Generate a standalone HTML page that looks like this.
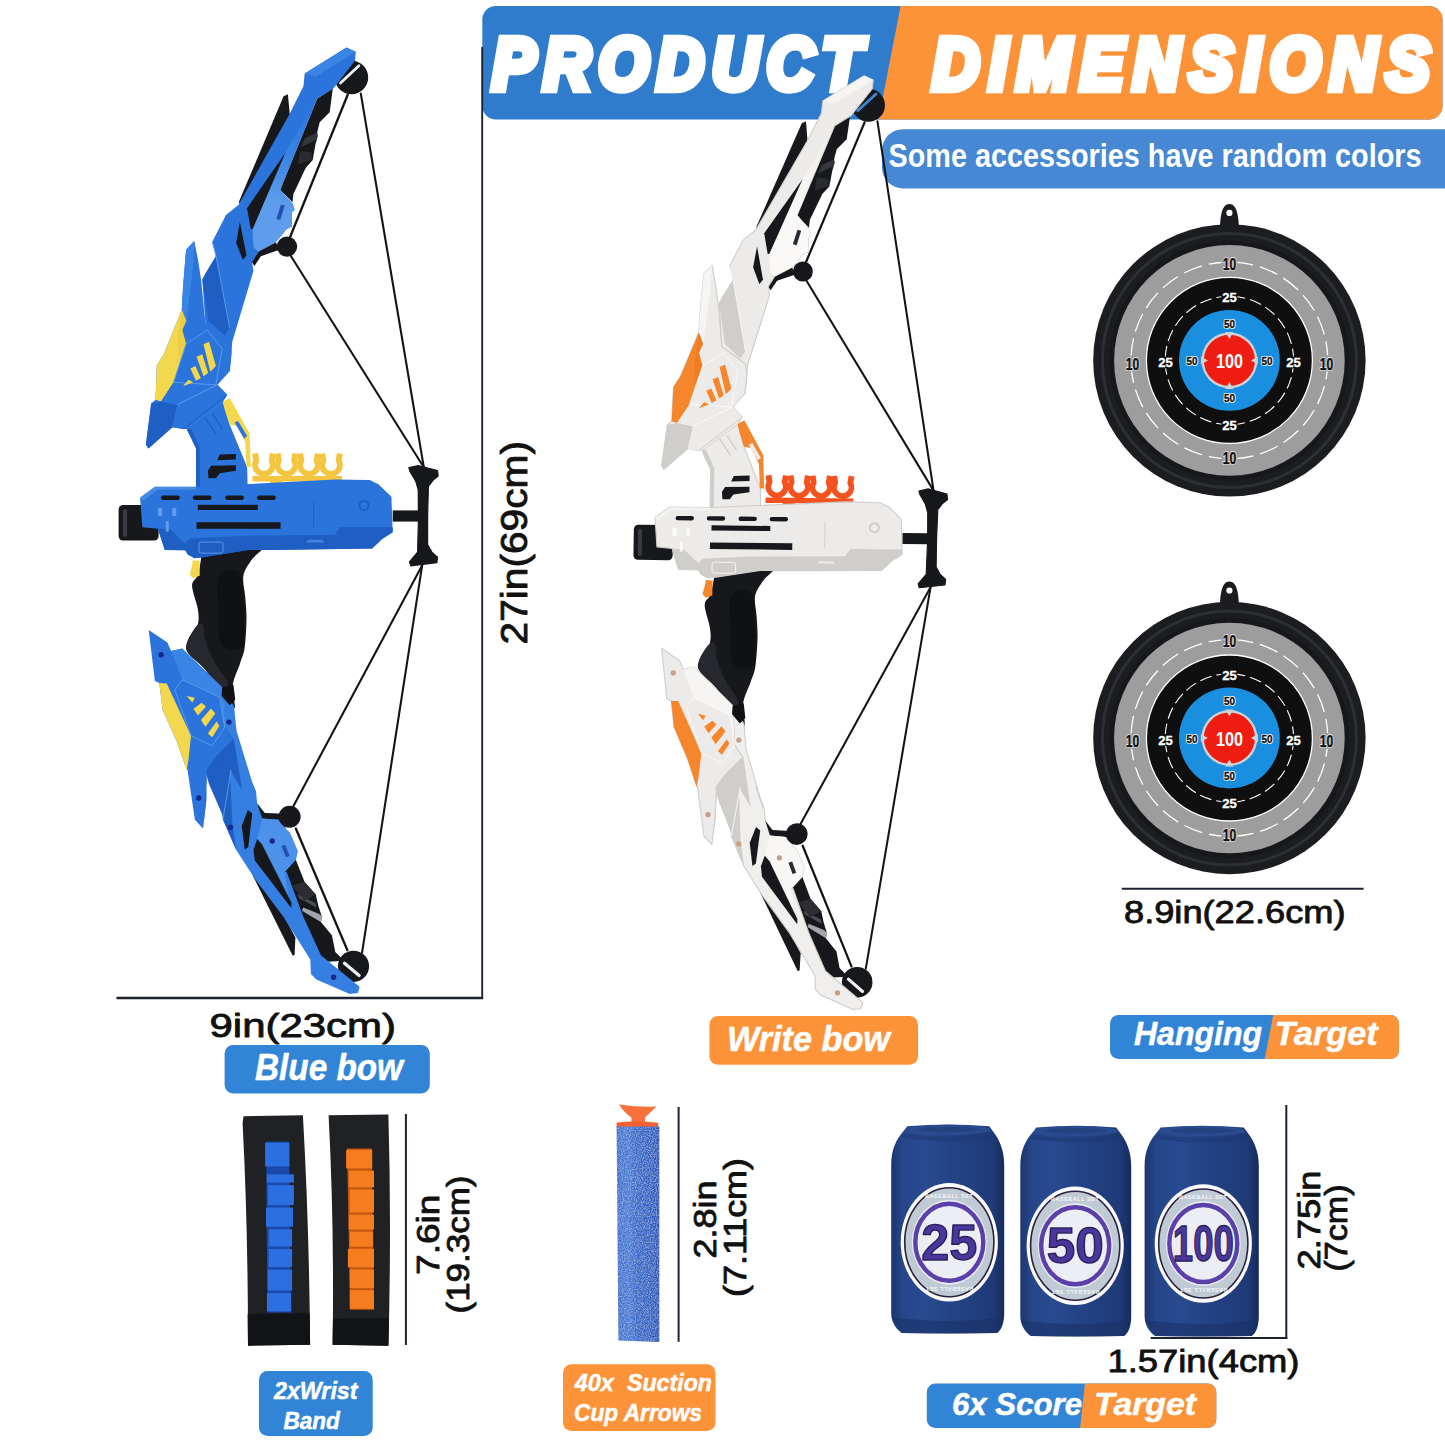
<!DOCTYPE html>
<html lang="en"><head><meta charset="utf-8"><title>Product Dimensions</title>
<style>
html,body{margin:0;padding:0;background:#fff;}
body{width:1445px;height:1445px;overflow:hidden;position:relative;font-family:"Liberation Sans",sans-serif;}
svg{position:absolute;left:0;top:0;display:block;}
text{font-family:"Liberation Sans",sans-serif;}
.bi{font-weight:bold;font-style:italic;fill:#fff;stroke:#fff;stroke-width:0.5px;}
.dim{font-weight:normal;fill:#111;stroke:#111;stroke-width:0.85px;stroke-linejoin:round;}
</style></head><body>
<svg width="1445" height="1445" viewBox="0 0 1445 1445">

<defs><clipPath id="bclip"><rect x="482.3" y="6" width="960.2" height="113.4" rx="13.5"/></clipPath></defs>
<g clip-path="url(#bclip)">
<rect x="482" y="6" width="961" height="114" fill="#2f7bcc"/>
<polygon points="900.6,6 1443,6 1443,120 878.4,120" fill="#fd9339"/>
</g>
<g class="bi" font-size="72" style="stroke:#fff;stroke-width:8.4px;stroke-linejoin:miter;stroke-miterlimit:2.5">
<text transform="translate(492.3 88.8) scale(0.9 1)" letter-spacing="9.0">PRODUCT</text>
<text transform="translate(932.5 88.8) scale(0.9 1)" letter-spacing="10.7">DIMENSIONS</text>
</g>
<rect x="882" y="129.2" width="600" height="59.2" rx="21" fill="#4688d3"/>
<text x="888.5" y="167.2" font-size="32.5" font-weight="bold" fill="#fff" textLength="533" lengthAdjust="spacingAndGlyphs">Some accessories have random colors</text>
<g stroke="#1d2230" stroke-width="2" fill="none">
<line x1="482.2" y1="47" x2="482.2" y2="999" stroke-width="1.9"/>
<line x1="116.5" y1="998" x2="483.1" y2="998" stroke-width="2.5"/>
<line x1="1121.8" y1="888.7" x2="1363.6" y2="888.7"/>
<line x1="405.9" y1="1114" x2="405.9" y2="1345"/>
<line x1="678.6" y1="1107" x2="678.6" y2="1341.8"/>
<line x1="1286.3" y1="1105" x2="1286.3" y2="1339"/>
<line x1="1150.7" y1="1338" x2="1287.3" y2="1338"/>
</g>
<text class="dim" transform="translate(527.2 644.5) rotate(-90)" font-size="37" textLength="203.5" lengthAdjust="spacingAndGlyphs" >27in(69cm)</text>
<text class="dim" x="209.5" y="1037.0" font-size="33.5" textLength="186.5" lengthAdjust="spacingAndGlyphs" >9in(23cm)</text>
<text class="dim" x="1124.0" y="922.6" font-size="31.5" textLength="221.5" lengthAdjust="spacingAndGlyphs" >8.9in(22.6cm)</text>
<text class="dim" transform="translate(439.0 1275.0) rotate(-90)" font-size="31" textLength="80.5" lengthAdjust="spacingAndGlyphs" >7.6in</text>
<text class="dim" transform="translate(468.5 1313.5) rotate(-90)" font-size="31" textLength="138.0" lengthAdjust="spacingAndGlyphs" >(19.3cm)</text>
<text class="dim" transform="translate(715.5 1258.5) rotate(-90)" font-size="31" textLength="78.0" lengthAdjust="spacingAndGlyphs" >2.8in</text>
<text class="dim" transform="translate(746.0 1297.0) rotate(-90)" font-size="31" textLength="139.0" lengthAdjust="spacingAndGlyphs" >(7.11cm)</text>
<text class="dim" transform="translate(1319.5 1269.5) rotate(-90)" font-size="31" textLength="99.0" lengthAdjust="spacingAndGlyphs" >2.75in</text>
<text class="dim" transform="translate(1347.0 1271.5) rotate(-90)" font-size="31" textLength="87.0" lengthAdjust="spacingAndGlyphs" >(7cm)</text>
<text class="dim" x="1107.5" y="1372.0" font-size="31.5" textLength="192.0" lengthAdjust="spacingAndGlyphs" >1.57in(4cm)</text>
<g id="bow-blue"><line x1="360.8" y1="93.6" x2="423.8" y2="467.2" stroke="#141414" stroke-width="2.1" stroke-linecap="round"/>
<line x1="290.1" y1="254.7" x2="423.8" y2="467.2" stroke="#141414" stroke-width="2.1" stroke-linecap="round"/>
<line x1="362.1" y1="952.4" x2="422.2" y2="565.2" stroke="#141414" stroke-width="2.1" stroke-linecap="round"/>
<line x1="292.7" y1="807.4" x2="422.2" y2="565.2" stroke="#141414" stroke-width="2.1" stroke-linecap="round"/>
<circle cx="351.4" cy="77.4" r="16.8" fill="#17181c" />
<circle cx="353.5" cy="966.3" r="15.6" fill="#17181c" />
<polygon points="287.9,94.2 289.8,114.7 242.8,206.4 238.7,202.3 283.6,96.3" fill="#17181c" />
<polygon points="252.9,875.9 259.7,869.7 295.4,937.5 294.6,955.0 292.6,955.4" fill="#17181c" />
<polygon points="332.8,88.6 329.7,112.2 319.7,122.2 317.2,132.2 317.8,135.9 315.5,144.2 312.7,160.1 305.8,167.7 293.4,194.0 292.5,202.3 280.2,189.8 317.2,98.5" fill="#17181c" />
<polygon points="304.7,138.4 317.2,132.4 316.6,139.7 301.0,147.1" fill="#33363c" />
<polygon points="299.8,150.9 311.6,152.4 312.0,159.6 297.9,164.6" fill="#2a2c32" />
<polygon points="295.8,859.7 304.6,882.1 315.8,894.6 318.3,905.8 322.0,917.0 322.0,916.4 320.9,922.0 331.9,935.3 335.3,951.9 344.1,960.7 327.5,961.8 318.7,956.9 298.7,917.5 282.1,875.5 279.7,869.7" fill="#17181c" />
<polygon points="303.2,907.6 318.7,913.7 322.2,916.4 320.9,922.0 312.0,916.7 302.0,910.7" fill="#a3a5ab" />
<polygon points="297.6,894.3 315.3,902.9 316.4,907.6 299.3,898.2" fill="#4a4d55" />
<polygon points="292.1,885.8 304.6,882.1 315.8,894.6 304.6,900.8" fill="#2c2e34" />
<path d="M202.6 546.6 C207.9 543.7 222.9 542.7 233.0 542.5 C243.2 542.2 260.4 542.3 263.5 545.2 C266.6 548.1 255.1 554.7 251.7 559.8 C248.4 564.8 244.5 569.6 243.4 575.7 C242.3 581.8 244.7 589.3 245.2 596.4 C245.7 603.6 246.6 610.0 246.5 618.6 C246.4 627.1 245.7 640.3 244.7 647.6 C243.6 655.0 242.2 656.6 240.2 662.9 C238.3 669.1 233.7 677.5 232.8 685.0 C231.8 692.5 236.0 705.7 234.7 707.9 C233.4 710.0 229.6 704.5 224.7 698.2 C219.9 691.8 211.8 677.9 205.4 669.8 C199.0 661.6 188.2 655.1 186.3 649.3 C184.4 643.5 192.0 639.9 194.0 635.2 C196.0 630.5 197.9 626.0 198.4 621.3 C199.0 616.7 198.4 612.4 197.5 607.5 C196.6 602.7 194.0 596.3 193.2 592.3 C192.3 588.2 191.6 586.2 192.4 583.3 C193.1 580.4 196.3 578.9 197.8 575.0 C199.2 571.1 200.1 564.5 200.9 559.8 C201.7 555.0 197.2 549.5 202.6 546.6 Z" fill="#17181c" />
<path d="M195.7 626.9 C198.5 622.9 201.7 623.2 203.3 625.5 C204.9 627.8 203.4 634.5 205.4 640.7 C207.3 647.0 211.4 656.0 215.1 662.9 C218.7 669.8 225.9 676.9 227.5 682.2 C229.1 687.6 228.4 696.8 224.7 694.7 C221.0 692.6 211.8 677.4 205.4 669.8 C199.0 662.2 187.9 656.5 186.3 649.3 C184.6 642.2 192.8 630.9 195.7 626.9 Z" fill="#26282e" />
<path d="M219.2 575.7 C222.5 569.7 234.6 568.1 238.6 571.5 C242.5 575.0 242.1 587.2 243.0 596.4 C243.9 605.7 244.3 618.4 244.1 626.9 C244.0 635.4 245.7 644.6 242.0 647.6 C238.4 650.6 225.9 651.6 222.0 644.9 C218.1 638.2 219.0 619.0 218.5 607.5 C218.1 596.0 215.9 581.7 219.2 575.7 Z" fill="#101114" />
<polygon points="275.8,242.3 279.5,249.8 260.9,256.2 254.4,265.9 251.5,261.6 258.4,251.6" fill="#17181c" />
<polygon points="346.5,47.5 355.8,51.8 355.1,60.6 333.6,88.3 317.2,98.5 280.2,189.8 292.7,203.7 294.7,209.9 292.0,212.0 292.0,226.5 286.4,229.3 275.8,242.3 258.4,251.6 252.1,262.2 253.4,270.9 232.2,341.9 231.0,360.0 229.7,371.1 217.2,384.8 227.2,394.8 222.8,401.6 186.7,429.0 205.4,323.2 202.3,279.7 204.8,274.7 216.0,256.0 212.3,241.7 226.0,214.9 238.4,204.9 289.2,114.7 303.5,86.1 304.7,73.6" fill="#2b74dc" />
<polygon points="304.7,73.6 346.5,47.5 355.8,51.8 315.9,76.4" fill="#3a84e6" />
<defs><linearGradient id="lfb" gradientUnits="userSpaceOnUse" x1="314" y1="105" x2="278" y2="205"><stop offset="0" stop-color="#2b74dc"/><stop offset="0.55" stop-color="#3a84e6"/><stop offset="1" stop-color="#5e9deb"/></linearGradient></defs>
<polygon points="315.9,100.0 280.2,189.8 292.7,203.7 294.7,209.9 292.0,212.0 292.0,226.5 286.4,229.3 275.8,242.3 258.4,251.6 253.4,247.3 252.5,229.3 285.4,152.8" fill="url(#lfb)" />
<polygon points="280.9,204.4 284.7,205.4 280.2,220.3 276.4,218.9" fill="#2450b4" />
<polygon points="285.4,152.8 252.5,229.3 250.8,228.9 247.0,208.2" fill="#17181c" />
<polygon points="239.9,221.7 243.4,239.8 246.5,255.4 242.8,259.7 236.2,242.9" fill="#17181c" />
<polygon points="204.8,274.7 216.0,256.0 229.7,327.6 224.7,335.7 208.5,320.8 202.3,279.7" fill="#1f5fc4" />
<line x1="216.0" y1="256.0" x2="229.7" y2="327.6" stroke="#5e9deb" stroke-width="0.9" stroke-linecap="butt"/>
<line x1="212.3" y1="241.7" x2="216.0" y2="256.0" stroke="#5e9deb" stroke-width="0.9" stroke-linecap="butt"/>
<polygon points="186.7,429.0 222.8,401.6 229.7,424.7 247.1,467.0 247.7,488.2 196.0,488.2 196.0,448.3" fill="#2b74dc" />
<polygon points="186.7,429.0 196.0,448.3 196.0,488.2 199.8,488.2 199.8,447.1 191.0,428.4" fill="#1f5fc4" />
<line x1="204.7" y1="417.2" x2="215.9" y2="433.4" stroke="#1f5fc4" stroke-width="1.4" stroke-linecap="butt"/>
<line x1="212.2" y1="413.5" x2="222.2" y2="428.4" stroke="#1f5fc4" stroke-width="1.4" stroke-linecap="butt"/>
<polygon points="222.8,401.6 229.7,397.9 249.6,433.4 250.8,467.0 246.5,467.0 245.2,442.1 237.1,425.9 229.7,424.7 224.7,409.7" fill="#f3d84e" />
<polygon points="234.6,422.4 238.1,420.9 247.1,436.1 244.0,438.4" fill="#2b74dc" />
<polygon points="219.7,454.6 235.9,453.9 235.9,459.5 217.2,460.2" fill="#17181c" />
<polygon points="211.0,465.8 235.9,465.2 235.9,470.8 219.7,473.2 215.9,478.2 208.5,478.2 207.9,470.8" fill="#17181c" />
<polygon points="194.2,241.0 198.0,259.7 201.1,279.7 205.4,323.2 208.5,325.7 229.7,340.7 231.6,351.9 229.7,371.1 217.2,384.8 227.2,394.8 222.8,401.6 186.7,429.0 183.6,429.0 172.4,427.2 148.4,448.6 145.9,444.6 151.2,403.5 155.5,399.8 156.8,364.9 163.7,354.4 173.7,329.5 181.8,309.5 183.0,287.1 186.1,249.8" fill="#2b74dc" />
<polygon points="194.2,241.0 186.1,249.8 183.0,287.1 181.8,309.5 186.4,320.8 193.0,267.2" fill="#3a84e6" />
<polygon points="181.8,309.5 186.4,320.8 182.3,330.0 186.1,343.7 173.6,382.3 161.1,401.6 155.5,399.8 156.8,364.9 163.7,354.4 173.7,329.5" fill="#f3d84e" />
<polygon points="181.8,309.5 186.4,320.8 182.3,330.0 186.1,343.7 179.8,362.4 177.3,342.5 179.9,323.2" fill="#d9b02a" opacity="0.25"/>
<polygon points="151.2,403.5 161.1,401.6 177.3,404.7 172.4,427.2 148.4,448.6 145.9,444.6" fill="#1f5fc4" />
<polygon points="161.1,401.6 173.6,382.3 215.9,384.8 229.7,371.1 217.2,384.8 227.2,394.8 222.8,401.6 186.7,429.0 183.6,429.0 172.4,427.2 177.3,404.7" fill="#2b74dc" />
<line x1="177.3" y1="404.7" x2="217.2" y2="384.8" stroke="#5e9deb" stroke-width="1.0" stroke-linecap="butt"/>
<line x1="183.6" y1="429.0" x2="225.9" y2="396.0" stroke="#1f5fc4" stroke-width="1.0" stroke-linecap="butt"/>
<polyline points="173.6,382.3 186.1,343.7 207.2,330.0 222.2,348.7 215.9,384.8 173.6,382.3" fill="none" stroke="#5e9deb" stroke-width="0.9"/>
<polygon points="203.5,344.3 209.1,341.8 215.9,366.1 210.3,371.7" fill="#f3d84e" />
<polygon points="196.6,356.8 202.2,354.3 208.2,373.0 203.5,376.3" fill="#f3d84e" />
<polygon points="190.4,368.6 195.4,366.1 200.8,378.0 196.0,380.8" fill="#f3d84e" />
<polygon points="182.9,386.3 188.5,379.8 193.3,382.3" fill="#f3d84e" />
<g fill="none" stroke="#f6c540" stroke-width="6" stroke-linecap="butt" stroke-linejoin="round">
<path d="M255.1 453.4 L256.3 460.4 A8.9 8.9 0 1 0 271.7 460.4 L272.9 453.4"/>
<path d="M277.6 453.4 L278.8 460.4 A8.9 8.9 0 1 0 294.2 460.4 L295.4 453.4"/>
<path d="M300.1 453.4 L301.3 460.4 A8.9 8.9 0 1 0 316.7 460.4 L317.9 453.4"/>
<path d="M322.1 453.4 L323.3 460.4 A8.9 8.9 0 1 0 338.7 460.4 L339.9 453.4"/>
</g>
<polygon points="252.5,476.0 342.0,476.0 342.0,481.5 322.5,481.5 322.5,485.5 310.5,485.5 310.5,481.5 282.5,481.5 282.5,487.0 270.0,487.0 270.0,481.5 252.5,481.5" fill="#f6c540" />
<rect x="118.6" y="505" width="40" height="35.6" rx="4.5" fill="#17181c"/>
<rect x="123" y="509" width="4" height="28" rx="2" fill="#3a3c42"/>
<polygon points="392.7,510.4 419.5,510.4 419.5,521.6 392.7,521.6" fill="#17181c" />
<polygon points="154.8,486.7 195.9,486.7 334.8,479.6 369.7,480.1 378.4,484.2 391.4,496.7 392.7,532.2 382.1,539.0 372.1,548.6 270.0,549.9 248.2,549.9 204.6,557.1 194.7,558.3 187.8,554.6 185.3,550.2 164.8,549.9 157.9,528.7 142.4,527.2 140.1,497.5" fill="#2b74dc" />
<polygon points="154.8,486.7 195.9,486.7 195.9,489.8 157.3,489.8 143.0,501.0 140.1,497.5" fill="#5e9deb" opacity="0.55"/>
<polygon points="157.9,528.7 164.8,549.9 185.3,550.2 187.8,554.6 194.7,558.3 204.6,557.1 248.2,549.9 270.0,549.9 372.1,548.6 382.1,539.0 392.7,532.2 392.7,527.2 339.8,527.2 334.8,534.7 240.8,535.9 189.7,538.4 184.7,543.4 169.8,529.1" fill="#1f5fc4" />
<rect x="161.0" y="495.6" width="18.8" height="4.4" rx="2.2" fill="#17181c"/>
<rect x="192.8" y="495.6" width="18.8" height="4.4" rx="2.2" fill="#17181c"/>
<rect x="225.2" y="495.6" width="18.8" height="4.4" rx="2.2" fill="#17181c"/>
<rect x="257.0" y="495.6" width="18.8" height="4.4" rx="2.2" fill="#17181c"/>
<rect x="197.8" y="504.8" width="60" height="5.2" fill="#17181c"/>
<rect x="196.5" y="522.2" width="84" height="6.6" fill="#17181c"/>
<polygon points="157.9,507.9 162.3,507.9 162.3,516.0 157.9,516.0" fill="#5e9deb" />
<polygon points="172.2,507.9 176.2,507.9 176.2,516.0 172.2,516.0" fill="#5e9deb" />
<polygon points="165.8,521.0 168.8,521.0 168.8,531.6 165.8,531.6" fill="#5e9deb" />
<circle cx="364.0" cy="505.4" r="5.6" fill="#1f5fc4" />
<circle cx="364.0" cy="505.4" r="3.6" fill="#2b74dc" />
<polygon points="303.0,543.4 307.4,538.4 323.6,538.4 326.7,543.4" fill="#1f5fc4" />
<polygon points="306.1,542.4 308.6,539.7 322.3,539.7 324.2,542.4" fill="#5e9deb" opacity="0.6"/>
<line x1="313.6" y1="499.8" x2="313.6" y2="527.2" stroke="#1f5fc4" stroke-width="1.0" stroke-linecap="butt"/>
<rect x="199.0" y="542.1" width="24" height="11" rx="2" fill="none" stroke="#5e9deb" stroke-width="0.9"/>
<path d="M408.9 467.7 L418.2 465.5 L437.5 470.5 L438.2 476.1 L433.2 480.1 L428.4 486.3 L427.6 517.2 L427.6 544.6 L431.9 552.1 L437.5 557.1 L436.9 562.7 L410.8 565.8 L409.5 561.8 L417.6 552.1 L418.5 517.2 L418.2 489.8 L415.7 481.1 L409.8 471.1 Z" fill="#17181c" stroke="#17181c" stroke-width="1.2" stroke-linejoin="round"/>
<polygon points="192.8,560.2 199.7,560.8 199.7,575.8 192.8,578.3 189.7,574.5 192.2,564.6" fill="#f3d84e" />
<polygon points="234.0,705.9 236.5,730.8 254.6,790.0 247.3,770.0 256.0,791.2 257.2,803.6 264.7,813.0 279.7,813.8 286.5,829.8 289.6,832.3 297.7,851.0 295.8,859.7 284.6,872.1 286.5,871.6 303.2,916.4 320.9,955.2 359.6,986.8 358.0,993.1 349.7,993.9 316.4,979.6 310.9,974.0 310.3,959.6 283.2,916.4 254.7,878.4 236.1,849.7 223.0,819.8 222.4,814.8 209.9,782.5 224.7,727.1 222.2,687.2" fill="#357fe3" />
<polygon points="257.2,803.6 264.7,813.0 279.7,813.8 285.9,824.8 278.4,819.8 262.2,818.6" fill="#17181c" />
<polygon points="262.2,818.6 278.4,819.8 286.5,829.8 289.6,832.3 297.7,851.0 295.8,859.7 284.6,872.1 289.6,904.5 262.2,844.7 257.2,839.1" fill="#4c92ea" />
<polygon points="281.5,846.0 285.3,844.7 289.6,855.9 285.9,857.2" fill="#2450b4" />
<polygon points="208.9,783.7 222.4,814.8 223.0,819.8 236.1,849.7 232.3,822.3 229.8,770.0 242.1,790.0 234.0,739.5 224.7,727.1 214.7,755.7 205.5,770.0" fill="#1f5fc4" />
<line x1="231.1" y1="770.0" x2="223.0" y2="819.2" stroke="#5e9deb" stroke-width="0.9" stroke-linecap="butt"/>
<polygon points="247.9,809.9 252.2,813.6 248.3,847.0 244.8,849.7 241.7,826.1" fill="#17181c" />
<polygon points="257.2,839.1 262.2,844.7 291.5,902.7 291.5,908.1 289.3,905.4 254.7,860.3 253.5,849.7" fill="#17181c" />
<polygon points="148.7,629.9 167.4,642.4 171.1,651.1 182.3,648.6 188.5,654.8 222.2,687.2 224.7,727.1 233.4,739.5 215.9,757.0 206.8,770.0 206.2,801.1 203.0,828.5 194.9,819.8 187.5,770.0 184.8,764.5 176.7,741.4 162.6,709.7 159.3,682.9 154.9,681.0" fill="#2b74dc" />
<polygon points="171.1,651.1 182.3,648.6 188.5,654.8 222.2,687.2 224.7,727.1 219.7,697.2 182.3,679.8" fill="#3a84e6" />
<polygon points="159.3,682.9 166.7,683.5 191.0,735.8 188.5,759.5 186.7,770.7 184.8,764.5 176.7,741.4 162.6,709.7" fill="#f3d84e" />
<polygon points="233.4,739.5 215.9,757.0 206.8,770.0 206.2,801.1 203.0,828.5 208.0,770.0 219.7,764.5" fill="#1f5fc4" />
<polyline points="182.3,679.8 219.7,697.2 224.7,727.1 212.2,745.8 191.0,735.8 174.8,689.7 182.3,679.8" fill="none" stroke="#5e9deb" stroke-width="0.9"/>
<polygon points="186.7,695.9 194.8,697.8 192.3,702.4" fill="#f3d84e" />
<polygon points="193.5,708.7 201.6,702.8 206.0,706.5 197.9,715.5" fill="#f3d84e" />
<polygon points="201.0,719.9 211.0,708.4 215.3,713.4 205.4,726.7" fill="#f3d84e" />
<polygon points="207.9,733.6 216.6,721.5 219.4,725.8 212.2,737.3" fill="#f3d84e" />
<polygon points="222.2,687.2 233.4,684.7 235.3,699.7 229.7,705.3 221.6,695.9" fill="#101114" />
<circle cx="161.1" cy="654.8" r="2.7" fill="#142a86" />
<circle cx="229.0" cy="722.1" r="2.7" fill="#142a86" />
<circle cx="198.7" cy="798.0" r="2.7" fill="#142a86" />
<circle cx="230.4" cy="827.3" r="2.7" fill="#142a86" />
<circle cx="272.2" cy="841.0" r="2.7" fill="#142a86" />
<circle cx="333.6" cy="977.3" r="2.7" fill="#142a86" />
<circle cx="287.0" cy="246.6" r="10.2" fill="#17181c" />
<circle cx="289.6" cy="816.7" r="11.0" fill="#17181c" />
<line x1="358.9" y1="65.8" x2="340.5" y2="83.0" stroke="#eef1f5" stroke-width="2.8" stroke-linecap="round"/>
<line x1="344.5" y1="963.2" x2="359.1" y2="975.5" stroke="#f1f3f6" stroke-width="3.2" stroke-linecap="round"/>
<line x1="347.7" y1="94.8" x2="289.5" y2="238.5" stroke="#141414" stroke-width="2.3" stroke-linecap="round"/>
<line x1="295.8" y1="828.5" x2="347.4" y2="950.2" stroke="#141414" stroke-width="2.3" stroke-linecap="round"/></g>
<g id="bow-white" transform="matrix(0.97994 0.010594 -0.015055 0.98664 525.305 25.174)"><line x1="360.8" y1="93.6" x2="423.8" y2="467.2" stroke="#141414" stroke-width="2.1" stroke-linecap="round"/>
<line x1="290.1" y1="254.7" x2="423.8" y2="467.2" stroke="#141414" stroke-width="2.1" stroke-linecap="round"/>
<line x1="362.1" y1="952.4" x2="422.2" y2="565.2" stroke="#141414" stroke-width="2.1" stroke-linecap="round"/>
<line x1="292.7" y1="807.4" x2="422.2" y2="565.2" stroke="#141414" stroke-width="2.1" stroke-linecap="round"/>
<circle cx="351.4" cy="77.4" r="16.8" fill="#17181c" />
<circle cx="353.5" cy="966.3" r="15.6" fill="#17181c" />
<polygon points="287.9,94.2 289.8,114.7 242.8,206.4 238.7,202.3 283.6,96.3" fill="#17181c" />
<polygon points="252.9,875.9 259.7,869.7 295.4,937.5 294.6,955.0 292.6,955.4" fill="#17181c" />
<polygon points="332.8,88.6 329.7,112.2 319.7,122.2 317.2,132.2 317.8,135.9 315.5,144.2 312.7,160.1 305.8,167.7 293.4,194.0 292.5,202.3 280.2,189.8 317.2,98.5" fill="#17181c" />
<polygon points="304.7,138.4 317.2,132.4 316.6,139.7 301.0,147.1" fill="#33363c" />
<polygon points="299.8,150.9 311.6,152.4 312.0,159.6 297.9,164.6" fill="#2a2c32" />
<polygon points="295.8,859.7 304.6,882.1 315.8,894.6 318.3,905.8 322.0,917.0 322.0,916.4 320.9,922.0 331.9,935.3 335.3,951.9 344.1,960.7 327.5,961.8 318.7,956.9 298.7,917.5 282.1,875.5 279.7,869.7" fill="#17181c" />
<polygon points="303.2,907.6 318.7,913.7 322.2,916.4 320.9,922.0 312.0,916.7 302.0,910.7" fill="#a3a5ab" />
<polygon points="297.6,894.3 315.3,902.9 316.4,907.6 299.3,898.2" fill="#4a4d55" />
<polygon points="292.1,885.8 304.6,882.1 315.8,894.6 304.6,900.8" fill="#2c2e34" />
<path d="M202.6 546.6 C207.9 543.7 222.9 542.7 233.0 542.5 C243.2 542.2 260.4 542.3 263.5 545.2 C266.6 548.1 255.1 554.7 251.7 559.8 C248.4 564.8 244.5 569.6 243.4 575.7 C242.3 581.8 244.7 589.3 245.2 596.4 C245.7 603.6 246.6 610.0 246.5 618.6 C246.4 627.1 245.7 640.3 244.7 647.6 C243.6 655.0 242.2 656.6 240.2 662.9 C238.3 669.1 233.7 677.5 232.8 685.0 C231.8 692.5 236.0 705.7 234.7 707.9 C233.4 710.0 229.6 704.5 224.7 698.2 C219.9 691.8 211.8 677.9 205.4 669.8 C199.0 661.6 188.2 655.1 186.3 649.3 C184.4 643.5 192.0 639.9 194.0 635.2 C196.0 630.5 197.9 626.0 198.4 621.3 C199.0 616.7 198.4 612.4 197.5 607.5 C196.6 602.7 194.0 596.3 193.2 592.3 C192.3 588.2 191.6 586.2 192.4 583.3 C193.1 580.4 196.3 578.9 197.8 575.0 C199.2 571.1 200.1 564.5 200.9 559.8 C201.7 555.0 197.2 549.5 202.6 546.6 Z" fill="#17181c" />
<path d="M195.7 626.9 C198.5 622.9 201.7 623.2 203.3 625.5 C204.9 627.8 203.4 634.5 205.4 640.7 C207.3 647.0 211.4 656.0 215.1 662.9 C218.7 669.8 225.9 676.9 227.5 682.2 C229.1 687.6 228.4 696.8 224.7 694.7 C221.0 692.6 211.8 677.4 205.4 669.8 C199.0 662.2 187.9 656.5 186.3 649.3 C184.6 642.2 192.8 630.9 195.7 626.9 Z" fill="#26282e" />
<path d="M219.2 575.7 C222.5 569.7 234.6 568.1 238.6 571.5 C242.5 575.0 242.1 587.2 243.0 596.4 C243.9 605.7 244.3 618.4 244.1 626.9 C244.0 635.4 245.7 644.6 242.0 647.6 C238.4 650.6 225.9 651.6 222.0 644.9 C218.1 638.2 219.0 619.0 218.5 607.5 C218.1 596.0 215.9 581.7 219.2 575.7 Z" fill="#101114" />
<polygon points="275.8,242.3 279.5,249.8 260.9,256.2 254.4,265.9 251.5,261.6 258.4,251.6" fill="#17181c" />
<polygon points="346.5,47.5 355.8,51.8 355.1,60.6 333.6,88.3 317.2,98.5 280.2,189.8 292.7,203.7 294.7,209.9 292.0,212.0 292.0,226.5 286.4,229.3 275.8,242.3 258.4,251.6 252.1,262.2 253.4,270.9 232.2,341.9 231.0,360.0 229.7,371.1 217.2,384.8 227.2,394.8 222.8,401.6 186.7,429.0 205.4,323.2 202.3,279.7 204.8,274.7 216.0,256.0 212.3,241.7 226.0,214.9 238.4,204.9 289.2,114.7 303.5,86.1 304.7,73.6" fill="#ecebe9" stroke="#cfcdc9" stroke-width="1.1" stroke-linejoin="round"/>
<polygon points="304.7,73.6 346.5,47.5 355.8,51.8 315.9,76.4" fill="#f6f5f3" />
<defs><linearGradient id="lfw" gradientUnits="userSpaceOnUse" x1="314" y1="105" x2="278" y2="205"><stop offset="0" stop-color="#ecebe9"/><stop offset="0.55" stop-color="#f6f5f3"/><stop offset="1" stop-color="#faf9f8"/></linearGradient></defs>
<polygon points="315.9,100.0 280.2,189.8 292.7,203.7 294.7,209.9 292.0,212.0 292.0,226.5 286.4,229.3 275.8,242.3 258.4,251.6 253.4,247.3 252.5,229.3 285.4,152.8" fill="url(#lfw)" />
<polygon points="280.9,204.4 284.7,205.4 280.2,220.3 276.4,218.9" fill="#2a2b30" />
<polygon points="285.4,152.8 252.5,229.3 250.8,228.9 247.0,208.2" fill="#17181c" />
<polygon points="239.9,221.7 243.4,239.8 246.5,255.4 242.8,259.7 236.2,242.9" fill="#17181c" />
<polygon points="204.8,274.7 216.0,256.0 229.7,327.6 224.7,335.7 208.5,320.8 202.3,279.7" fill="#d0cecb" />
<line x1="216.0" y1="256.0" x2="229.7" y2="327.6" stroke="#faf9f8" stroke-width="0.9" stroke-linecap="butt"/>
<line x1="212.3" y1="241.7" x2="216.0" y2="256.0" stroke="#faf9f8" stroke-width="0.9" stroke-linecap="butt"/>
<polygon points="186.7,429.0 222.8,401.6 229.7,424.7 247.1,467.0 247.7,488.2 196.0,488.2 196.0,448.3" fill="#ecebe9" stroke="#cfcdc9" stroke-width="1.1" stroke-linejoin="round"/>
<polygon points="186.7,429.0 196.0,448.3 196.0,488.2 199.8,488.2 199.8,447.1 191.0,428.4" fill="#d0cecb" />
<line x1="204.7" y1="417.2" x2="215.9" y2="433.4" stroke="#d0cecb" stroke-width="1.4" stroke-linecap="butt"/>
<line x1="212.2" y1="413.5" x2="222.2" y2="428.4" stroke="#d0cecb" stroke-width="1.4" stroke-linecap="butt"/>
<polygon points="222.8,401.6 229.7,397.9 249.6,433.4 250.8,467.0 246.5,467.0 245.2,442.1 237.1,425.9 229.7,424.7 224.7,409.7" fill="#f6862c" />
<polygon points="234.6,422.4 238.1,420.9 247.1,436.1 244.0,438.4" fill="#ecebe9" />
<polygon points="219.7,454.6 235.9,453.9 235.9,459.5 217.2,460.2" fill="#17181c" />
<polygon points="211.0,465.8 235.9,465.2 235.9,470.8 219.7,473.2 215.9,478.2 208.5,478.2 207.9,470.8" fill="#17181c" />
<polygon points="194.2,241.0 198.0,259.7 201.1,279.7 205.4,323.2 208.5,325.7 229.7,340.7 231.6,351.9 229.7,371.1 217.2,384.8 227.2,394.8 222.8,401.6 186.7,429.0 183.6,429.0 172.4,427.2 148.4,448.6 145.9,444.6 151.2,403.5 155.5,399.8 156.8,364.9 163.7,354.4 173.7,329.5 181.8,309.5 183.0,287.1 186.1,249.8" fill="#ecebe9" stroke="#cfcdc9" stroke-width="1.1" stroke-linejoin="round"/>
<polygon points="194.2,241.0 186.1,249.8 183.0,287.1 181.8,309.5 186.4,320.8 193.0,267.2" fill="#f6f5f3" />
<polygon points="181.8,309.5 186.4,320.8 182.3,330.0 186.1,343.7 173.6,382.3 161.1,401.6 155.5,399.8 156.8,364.9 163.7,354.4 173.7,329.5" fill="#f6862c" />
<polygon points="181.8,309.5 186.4,320.8 182.3,330.0 186.1,343.7 179.8,362.4 177.3,342.5 179.9,323.2" fill="#e0600c" opacity="0.25"/>
<polygon points="151.2,403.5 161.1,401.6 177.3,404.7 172.4,427.2 148.4,448.6 145.9,444.6" fill="#d0cecb" />
<polygon points="161.1,401.6 173.6,382.3 215.9,384.8 229.7,371.1 217.2,384.8 227.2,394.8 222.8,401.6 186.7,429.0 183.6,429.0 172.4,427.2 177.3,404.7" fill="#ecebe9" />
<line x1="177.3" y1="404.7" x2="217.2" y2="384.8" stroke="#faf9f8" stroke-width="1.0" stroke-linecap="butt"/>
<line x1="183.6" y1="429.0" x2="225.9" y2="396.0" stroke="#d0cecb" stroke-width="1.0" stroke-linecap="butt"/>
<polyline points="173.6,382.3 186.1,343.7 207.2,330.0 222.2,348.7 215.9,384.8 173.6,382.3" fill="none" stroke="#faf9f8" stroke-width="0.9"/>
<polygon points="203.5,344.3 209.1,341.8 215.9,366.1 210.3,371.7" fill="#f6862c" />
<polygon points="196.6,356.8 202.2,354.3 208.2,373.0 203.5,376.3" fill="#f6862c" />
<polygon points="190.4,368.6 195.4,366.1 200.8,378.0 196.0,380.8" fill="#f6862c" />
<polygon points="182.9,386.3 188.5,379.8 193.3,382.3" fill="#f6862c" />
<g fill="none" stroke="#f4521f" stroke-width="6" stroke-linecap="butt" stroke-linejoin="round">
<path d="M255.1 453.4 L256.3 460.4 A8.9 8.9 0 1 0 271.7 460.4 L272.9 453.4"/>
<path d="M277.6 453.4 L278.8 460.4 A8.9 8.9 0 1 0 294.2 460.4 L295.4 453.4"/>
<path d="M300.1 453.4 L301.3 460.4 A8.9 8.9 0 1 0 316.7 460.4 L317.9 453.4"/>
<path d="M322.1 453.4 L323.3 460.4 A8.9 8.9 0 1 0 338.7 460.4 L339.9 453.4"/>
</g>
<polygon points="252.5,476.0 342.0,476.0 342.0,481.5 322.5,481.5 322.5,485.5 310.5,485.5 310.5,481.5 282.5,481.5 282.5,487.0 270.0,487.0 270.0,481.5 252.5,481.5" fill="#f4521f" />
<rect x="118.6" y="505" width="40" height="35.6" rx="4.5" fill="#17181c"/>
<rect x="123" y="509" width="4" height="28" rx="2" fill="#3a3c42"/>
<polygon points="392.7,510.4 419.5,510.4 419.5,521.6 392.7,521.6" fill="#17181c" />
<polygon points="154.8,486.7 195.9,486.7 334.8,479.6 369.7,480.1 378.4,484.2 391.4,496.7 392.7,532.2 382.1,539.0 372.1,548.6 270.0,549.9 248.2,549.9 204.6,557.1 194.7,558.3 187.8,554.6 185.3,550.2 164.8,549.9 157.9,528.7 142.4,527.2 140.1,497.5" fill="#ecebe9" stroke="#cfcdc9" stroke-width="1.1" stroke-linejoin="round"/>
<polygon points="154.8,486.7 195.9,486.7 195.9,489.8 157.3,489.8 143.0,501.0 140.1,497.5" fill="#faf9f8" opacity="0.55"/>
<polygon points="157.9,528.7 164.8,549.9 185.3,550.2 187.8,554.6 194.7,558.3 204.6,557.1 248.2,549.9 270.0,549.9 372.1,548.6 382.1,539.0 392.7,532.2 392.7,527.2 339.8,527.2 334.8,534.7 240.8,535.9 189.7,538.4 184.7,543.4 169.8,529.1" fill="#d0cecb" />
<rect x="161.0" y="495.6" width="18.8" height="4.4" rx="2.2" fill="#17181c"/>
<rect x="192.8" y="495.6" width="18.8" height="4.4" rx="2.2" fill="#17181c"/>
<rect x="225.2" y="495.6" width="18.8" height="4.4" rx="2.2" fill="#17181c"/>
<rect x="257.0" y="495.6" width="18.8" height="4.4" rx="2.2" fill="#17181c"/>
<rect x="197.8" y="504.8" width="60" height="5.2" fill="#17181c"/>
<rect x="196.5" y="522.2" width="84" height="6.6" fill="#17181c"/>
<polygon points="157.9,507.9 162.3,507.9 162.3,516.0 157.9,516.0" fill="#faf9f8" />
<polygon points="172.2,507.9 176.2,507.9 176.2,516.0 172.2,516.0" fill="#faf9f8" />
<polygon points="165.8,521.0 168.8,521.0 168.8,531.6 165.8,531.6" fill="#faf9f8" />
<circle cx="364.0" cy="505.4" r="5.6" fill="#d0cecb" />
<circle cx="364.0" cy="505.4" r="3.6" fill="#ecebe9" />
<polygon points="303.0,543.4 307.4,538.4 323.6,538.4 326.7,543.4" fill="#d0cecb" />
<polygon points="306.1,542.4 308.6,539.7 322.3,539.7 324.2,542.4" fill="#faf9f8" opacity="0.6"/>
<line x1="313.6" y1="499.8" x2="313.6" y2="527.2" stroke="#d0cecb" stroke-width="1.0" stroke-linecap="butt"/>
<rect x="199.0" y="542.1" width="24" height="11" rx="2" fill="none" stroke="#faf9f8" stroke-width="0.9"/>
<path d="M408.9 467.7 L418.2 465.5 L437.5 470.5 L438.2 476.1 L433.2 480.1 L428.4 486.3 L427.6 517.2 L427.6 544.6 L431.9 552.1 L437.5 557.1 L436.9 562.7 L410.8 565.8 L409.5 561.8 L417.6 552.1 L418.5 517.2 L418.2 489.8 L415.7 481.1 L409.8 471.1 Z" fill="#17181c" stroke="#17181c" stroke-width="1.2" stroke-linejoin="round"/>
<polygon points="192.8,560.2 199.7,560.8 199.7,575.8 192.8,578.3 189.7,574.5 192.2,564.6" fill="#f6862c" />
<polygon points="234.0,705.9 236.5,730.8 254.6,790.0 247.3,770.0 256.0,791.2 257.2,803.6 264.7,813.0 279.7,813.8 286.5,829.8 289.6,832.3 297.7,851.0 295.8,859.7 284.6,872.1 286.5,871.6 303.2,916.4 320.9,955.2 359.6,986.8 358.0,993.1 349.7,993.9 316.4,979.6 310.9,974.0 310.3,959.6 283.2,916.4 254.7,878.4 236.1,849.7 223.0,819.8 222.4,814.8 209.9,782.5 224.7,727.1 222.2,687.2" fill="#f0efed" stroke="#cfcdc9" stroke-width="1.1" stroke-linejoin="round"/>
<polygon points="257.2,803.6 264.7,813.0 279.7,813.8 285.9,824.8 278.4,819.8 262.2,818.6" fill="#17181c" />
<polygon points="262.2,818.6 278.4,819.8 286.5,829.8 289.6,832.3 297.7,851.0 295.8,859.7 284.6,872.1 289.6,904.5 262.2,844.7 257.2,839.1" fill="#f8f7f6" />
<polygon points="281.5,846.0 285.3,844.7 289.6,855.9 285.9,857.2" fill="#2a2b30" />
<polygon points="208.9,783.7 222.4,814.8 223.0,819.8 236.1,849.7 232.3,822.3 229.8,770.0 242.1,790.0 234.0,739.5 224.7,727.1 214.7,755.7 205.5,770.0" fill="#d0cecb" />
<line x1="231.1" y1="770.0" x2="223.0" y2="819.2" stroke="#faf9f8" stroke-width="0.9" stroke-linecap="butt"/>
<polygon points="247.9,809.9 252.2,813.6 248.3,847.0 244.8,849.7 241.7,826.1" fill="#17181c" />
<polygon points="257.2,839.1 262.2,844.7 291.5,902.7 291.5,908.1 289.3,905.4 254.7,860.3 253.5,849.7" fill="#17181c" />
<polygon points="148.7,629.9 167.4,642.4 171.1,651.1 182.3,648.6 188.5,654.8 222.2,687.2 224.7,727.1 233.4,739.5 215.9,757.0 206.8,770.0 206.2,801.1 203.0,828.5 194.9,819.8 187.5,770.0 184.8,764.5 176.7,741.4 162.6,709.7 159.3,682.9 154.9,681.0" fill="#ecebe9" stroke="#cfcdc9" stroke-width="1.1" stroke-linejoin="round"/>
<polygon points="171.1,651.1 182.3,648.6 188.5,654.8 222.2,687.2 224.7,727.1 219.7,697.2 182.3,679.8" fill="#f6f5f3" />
<polygon points="159.3,682.9 166.7,683.5 191.0,735.8 188.5,759.5 186.7,770.7 184.8,764.5 176.7,741.4 162.6,709.7" fill="#f6862c" />
<polygon points="233.4,739.5 215.9,757.0 206.8,770.0 206.2,801.1 203.0,828.5 208.0,770.0 219.7,764.5" fill="#d0cecb" />
<polyline points="182.3,679.8 219.7,697.2 224.7,727.1 212.2,745.8 191.0,735.8 174.8,689.7 182.3,679.8" fill="none" stroke="#faf9f8" stroke-width="0.9"/>
<polygon points="186.7,695.9 194.8,697.8 192.3,702.4" fill="#f6862c" />
<polygon points="193.5,708.7 201.6,702.8 206.0,706.5 197.9,715.5" fill="#f6862c" />
<polygon points="201.0,719.9 211.0,708.4 215.3,713.4 205.4,726.7" fill="#f6862c" />
<polygon points="207.9,733.6 216.6,721.5 219.4,725.8 212.2,737.3" fill="#f6862c" />
<polygon points="222.2,687.2 233.4,684.7 235.3,699.7 229.7,705.3 221.6,695.9" fill="#101114" />
<circle cx="161.1" cy="654.8" r="2.7" fill="#c7a084" />
<circle cx="229.0" cy="722.1" r="2.7" fill="#c7a084" />
<circle cx="198.7" cy="798.0" r="2.7" fill="#c7a084" />
<circle cx="230.4" cy="827.3" r="2.7" fill="#c7a084" />
<circle cx="272.2" cy="841.0" r="2.7" fill="#c7a084" />
<circle cx="333.6" cy="977.3" r="2.7" fill="#c7a084" />
<circle cx="287.0" cy="246.6" r="10.2" fill="#17181c" />
<circle cx="289.6" cy="816.7" r="11.0" fill="#17181c" />
<line x1="358.9" y1="65.8" x2="340.5" y2="83.0" stroke="#3f88d8" stroke-width="2.8" stroke-linecap="round"/>
<line x1="344.5" y1="963.2" x2="359.1" y2="975.5" stroke="#f1f3f6" stroke-width="3.2" stroke-linecap="round"/>
<line x1="347.7" y1="94.8" x2="289.5" y2="238.5" stroke="#141414" stroke-width="2.3" stroke-linecap="round"/>
<line x1="295.8" y1="828.5" x2="347.4" y2="950.2" stroke="#141414" stroke-width="2.3" stroke-linecap="round"/></g>
<g transform="translate(1229.4 360.4)">
<path d="M-9.5 -133 C-9 -143 -8 -156.5 0 -156.5 C8 -156.5 9 -143 9.5 -133 Z" fill="#1b1c20"/>
<circle cx="0" cy="-147.5" r="3.1" fill="#fff"/>
<circle r="136.2" fill="#1c1d21"/>
<circle r="127" fill="none" stroke="#2d2f35" stroke-width="3"/>
<circle r="120" fill="#17181b"/>
<circle r="115.3" fill="#9d9d9d"/>
<circle r="98.4" fill="none" stroke="#fff" stroke-width="1.3" stroke-dasharray="19 7"/>
<circle r="83" fill="#0f0f10" stroke="#fff" stroke-width="1.3"/>
<circle r="64.2" fill="none" stroke="#fff" stroke-width="1.1" stroke-dasharray="12 5"/>
<circle r="50.4" fill="#1a8fe0"/>
<circle r="28" fill="#cfd2d4"/>
<circle r="25.6" fill="#ef1c12"/>
<polygon points="-4,-28.5 4,-28.5 0,-21.5" fill="#cfd2d4" transform="rotate(0)"/>
<polygon points="-4,-28.5 4,-28.5 0,-21.5" fill="#cfd2d4" transform="rotate(90)"/>
<polygon points="-4,-28.5 4,-28.5 0,-21.5" fill="#cfd2d4" transform="rotate(180)"/>
<polygon points="-4,-28.5 4,-28.5 0,-21.5" fill="#cfd2d4" transform="rotate(270)"/>
<rect x="-8.0" y="-105.0" width="16" height="16" fill="#9d9d9d"/>
<text x="-6.7" y="-90.8" font-size="17" font-weight="bold"  fill="#111" stroke="#fff" stroke-width="1.9" stroke-linejoin="round" textLength="13.5" lengthAdjust="spacingAndGlyphs">10</text>
<text x="-6.7" y="-90.8" font-size="17" font-weight="bold"  fill="#111" stroke="#111" stroke-width="0.55" textLength="13.5" lengthAdjust="spacingAndGlyphs">10</text>
<rect x="-105.0" y="-5.0" width="16" height="16" fill="#9d9d9d"/>
<text x="-103.7" y="9.2" font-size="17" font-weight="bold"  fill="#111" stroke="#fff" stroke-width="1.9" stroke-linejoin="round" textLength="13.5" lengthAdjust="spacingAndGlyphs">10</text>
<text x="-103.7" y="9.2" font-size="17" font-weight="bold"  fill="#111" stroke="#111" stroke-width="0.55" textLength="13.5" lengthAdjust="spacingAndGlyphs">10</text>
<rect x="89.0" y="-5.0" width="16" height="16" fill="#9d9d9d"/>
<text x="90.3" y="9.2" font-size="17" font-weight="bold"  fill="#111" stroke="#fff" stroke-width="1.9" stroke-linejoin="round" textLength="13.5" lengthAdjust="spacingAndGlyphs">10</text>
<text x="90.3" y="9.2" font-size="17" font-weight="bold"  fill="#111" stroke="#111" stroke-width="0.55" textLength="13.5" lengthAdjust="spacingAndGlyphs">10</text>
<rect x="-8.0" y="89.0" width="16" height="16" fill="#9d9d9d"/>
<text x="-6.7" y="103.2" font-size="17" font-weight="bold"  fill="#111" stroke="#fff" stroke-width="1.9" stroke-linejoin="round" textLength="13.5" lengthAdjust="spacingAndGlyphs">10</text>
<text x="-6.7" y="103.2" font-size="17" font-weight="bold"  fill="#111" stroke="#111" stroke-width="0.55" textLength="13.5" lengthAdjust="spacingAndGlyphs">10</text>
<rect x="-8.0" y="-69.0" width="16" height="12" fill="#0f0f10"/>
<text x="-7.2" y="-58.2" font-size="13.5" font-weight="bold"  fill="#fff" stroke="#fff" stroke-width="0.35" textLength="14.5" lengthAdjust="spacingAndGlyphs">25</text>
<rect x="-72.0" y="-4.0" width="16" height="12" fill="#0f0f10"/>
<text x="-71.2" y="6.8" font-size="13.5" font-weight="bold"  fill="#fff" stroke="#fff" stroke-width="0.35" textLength="14.5" lengthAdjust="spacingAndGlyphs">25</text>
<rect x="56.0" y="-4.0" width="16" height="12" fill="#0f0f10"/>
<text x="56.8" y="6.8" font-size="13.5" font-weight="bold"  fill="#fff" stroke="#fff" stroke-width="0.35" textLength="14.5" lengthAdjust="spacingAndGlyphs">25</text>
<rect x="-8.0" y="59.0" width="16" height="12" fill="#0f0f10"/>
<text x="-7.2" y="69.8" font-size="13.5" font-weight="bold"  fill="#fff" stroke="#fff" stroke-width="0.35" textLength="14.5" lengthAdjust="spacingAndGlyphs">25</text>
<text x="-5.5" y="-32.7" font-size="10.5" font-weight="bold"  fill="#111" stroke="#fff" stroke-width="2" stroke-linejoin="round" textLength="11" lengthAdjust="spacingAndGlyphs">50</text>
<text x="-5.5" y="-32.7" font-size="10.5" font-weight="bold"  fill="#111" stroke="#111" stroke-width="0.35" textLength="11" lengthAdjust="spacingAndGlyphs">50</text>
<text x="-43.0" y="4.8" font-size="10.5" font-weight="bold"  fill="#111" stroke="#fff" stroke-width="2" stroke-linejoin="round" textLength="11" lengthAdjust="spacingAndGlyphs">50</text>
<text x="-43.0" y="4.8" font-size="10.5" font-weight="bold"  fill="#111" stroke="#111" stroke-width="0.35" textLength="11" lengthAdjust="spacingAndGlyphs">50</text>
<text x="32.0" y="4.8" font-size="10.5" font-weight="bold"  fill="#111" stroke="#fff" stroke-width="2" stroke-linejoin="round" textLength="11" lengthAdjust="spacingAndGlyphs">50</text>
<text x="32.0" y="4.8" font-size="10.5" font-weight="bold"  fill="#111" stroke="#111" stroke-width="0.35" textLength="11" lengthAdjust="spacingAndGlyphs">50</text>
<text x="-5.5" y="41.8" font-size="10.5" font-weight="bold"  fill="#111" stroke="#fff" stroke-width="2" stroke-linejoin="round" textLength="11" lengthAdjust="spacingAndGlyphs">50</text>
<text x="-5.5" y="41.8" font-size="10.5" font-weight="bold"  fill="#111" stroke="#111" stroke-width="0.35" textLength="11" lengthAdjust="spacingAndGlyphs">50</text>
<text x="-13.5" y="7.6" font-size="21" font-weight="bold" fill="#fff" textLength="27" lengthAdjust="spacingAndGlyphs">100</text>
</g>
<g transform="translate(1229.4 738.0)">
<path d="M-9.5 -133 C-9 -143 -8 -156.5 0 -156.5 C8 -156.5 9 -143 9.5 -133 Z" fill="#1b1c20"/>
<circle cx="0" cy="-147.5" r="3.1" fill="#fff"/>
<circle r="136.2" fill="#1c1d21"/>
<circle r="127" fill="none" stroke="#2d2f35" stroke-width="3"/>
<circle r="120" fill="#17181b"/>
<circle r="115.3" fill="#9d9d9d"/>
<circle r="98.4" fill="none" stroke="#fff" stroke-width="1.3" stroke-dasharray="19 7"/>
<circle r="83" fill="#0f0f10" stroke="#fff" stroke-width="1.3"/>
<circle r="64.2" fill="none" stroke="#fff" stroke-width="1.1" stroke-dasharray="12 5"/>
<circle r="50.4" fill="#1a8fe0"/>
<circle r="28" fill="#cfd2d4"/>
<circle r="25.6" fill="#ef1c12"/>
<polygon points="-4,-28.5 4,-28.5 0,-21.5" fill="#cfd2d4" transform="rotate(0)"/>
<polygon points="-4,-28.5 4,-28.5 0,-21.5" fill="#cfd2d4" transform="rotate(90)"/>
<polygon points="-4,-28.5 4,-28.5 0,-21.5" fill="#cfd2d4" transform="rotate(180)"/>
<polygon points="-4,-28.5 4,-28.5 0,-21.5" fill="#cfd2d4" transform="rotate(270)"/>
<rect x="-8.0" y="-105.0" width="16" height="16" fill="#9d9d9d"/>
<text x="-6.7" y="-90.8" font-size="17" font-weight="bold"  fill="#111" stroke="#fff" stroke-width="1.9" stroke-linejoin="round" textLength="13.5" lengthAdjust="spacingAndGlyphs">10</text>
<text x="-6.7" y="-90.8" font-size="17" font-weight="bold"  fill="#111" stroke="#111" stroke-width="0.55" textLength="13.5" lengthAdjust="spacingAndGlyphs">10</text>
<rect x="-105.0" y="-5.0" width="16" height="16" fill="#9d9d9d"/>
<text x="-103.7" y="9.2" font-size="17" font-weight="bold"  fill="#111" stroke="#fff" stroke-width="1.9" stroke-linejoin="round" textLength="13.5" lengthAdjust="spacingAndGlyphs">10</text>
<text x="-103.7" y="9.2" font-size="17" font-weight="bold"  fill="#111" stroke="#111" stroke-width="0.55" textLength="13.5" lengthAdjust="spacingAndGlyphs">10</text>
<rect x="89.0" y="-5.0" width="16" height="16" fill="#9d9d9d"/>
<text x="90.3" y="9.2" font-size="17" font-weight="bold"  fill="#111" stroke="#fff" stroke-width="1.9" stroke-linejoin="round" textLength="13.5" lengthAdjust="spacingAndGlyphs">10</text>
<text x="90.3" y="9.2" font-size="17" font-weight="bold"  fill="#111" stroke="#111" stroke-width="0.55" textLength="13.5" lengthAdjust="spacingAndGlyphs">10</text>
<rect x="-8.0" y="89.0" width="16" height="16" fill="#9d9d9d"/>
<text x="-6.7" y="103.2" font-size="17" font-weight="bold"  fill="#111" stroke="#fff" stroke-width="1.9" stroke-linejoin="round" textLength="13.5" lengthAdjust="spacingAndGlyphs">10</text>
<text x="-6.7" y="103.2" font-size="17" font-weight="bold"  fill="#111" stroke="#111" stroke-width="0.55" textLength="13.5" lengthAdjust="spacingAndGlyphs">10</text>
<rect x="-8.0" y="-69.0" width="16" height="12" fill="#0f0f10"/>
<text x="-7.2" y="-58.2" font-size="13.5" font-weight="bold"  fill="#fff" stroke="#fff" stroke-width="0.35" textLength="14.5" lengthAdjust="spacingAndGlyphs">25</text>
<rect x="-72.0" y="-4.0" width="16" height="12" fill="#0f0f10"/>
<text x="-71.2" y="6.8" font-size="13.5" font-weight="bold"  fill="#fff" stroke="#fff" stroke-width="0.35" textLength="14.5" lengthAdjust="spacingAndGlyphs">25</text>
<rect x="56.0" y="-4.0" width="16" height="12" fill="#0f0f10"/>
<text x="56.8" y="6.8" font-size="13.5" font-weight="bold"  fill="#fff" stroke="#fff" stroke-width="0.35" textLength="14.5" lengthAdjust="spacingAndGlyphs">25</text>
<rect x="-8.0" y="59.0" width="16" height="12" fill="#0f0f10"/>
<text x="-7.2" y="69.8" font-size="13.5" font-weight="bold"  fill="#fff" stroke="#fff" stroke-width="0.35" textLength="14.5" lengthAdjust="spacingAndGlyphs">25</text>
<text x="-5.5" y="-32.7" font-size="10.5" font-weight="bold"  fill="#111" stroke="#fff" stroke-width="2" stroke-linejoin="round" textLength="11" lengthAdjust="spacingAndGlyphs">50</text>
<text x="-5.5" y="-32.7" font-size="10.5" font-weight="bold"  fill="#111" stroke="#111" stroke-width="0.35" textLength="11" lengthAdjust="spacingAndGlyphs">50</text>
<text x="-43.0" y="4.8" font-size="10.5" font-weight="bold"  fill="#111" stroke="#fff" stroke-width="2" stroke-linejoin="round" textLength="11" lengthAdjust="spacingAndGlyphs">50</text>
<text x="-43.0" y="4.8" font-size="10.5" font-weight="bold"  fill="#111" stroke="#111" stroke-width="0.35" textLength="11" lengthAdjust="spacingAndGlyphs">50</text>
<text x="32.0" y="4.8" font-size="10.5" font-weight="bold"  fill="#111" stroke="#fff" stroke-width="2" stroke-linejoin="round" textLength="11" lengthAdjust="spacingAndGlyphs">50</text>
<text x="32.0" y="4.8" font-size="10.5" font-weight="bold"  fill="#111" stroke="#111" stroke-width="0.35" textLength="11" lengthAdjust="spacingAndGlyphs">50</text>
<text x="-5.5" y="41.8" font-size="10.5" font-weight="bold"  fill="#111" stroke="#fff" stroke-width="2" stroke-linejoin="round" textLength="11" lengthAdjust="spacingAndGlyphs">50</text>
<text x="-5.5" y="41.8" font-size="10.5" font-weight="bold"  fill="#111" stroke="#111" stroke-width="0.35" textLength="11" lengthAdjust="spacingAndGlyphs">50</text>
<text x="-13.5" y="7.6" font-size="21" font-weight="bold" fill="#fff" textLength="27" lengthAdjust="spacingAndGlyphs">100</text>
</g>
<path d="M243.5 1116.2 L302.9 1115.3 Q309.2 1226.0 310.1 1344.8 L248.0 1345.7 Q248.0 1226.0 242.6 1123.4 Z" fill="#202125"/>
<path d="M247.6 1314.2 L309.7 1313.3 L310.1 1344.8 L248.0 1345.7 Z" fill="#121316"/>
<path d="M328.6 1115.3 L388.4 1114.4 Q391.6 1226.0 388.4 1345.7 L332.6 1344.8 Q334.4 1226.0 328.6 1115.3 Z" fill="#202125"/>
<path d="M333.0 1318.7 L389.1 1318.1 L388.4 1345.7 L332.6 1344.8 Z" fill="#121316"/>
<path d="M266.0 1141.4 L289.0 1141.4 L291.2 1312.4 L267.4 1312.4 Z" fill="#1a49ad"/>
<path d="M265.1 1142.8 L289.4 1142.8 L289.4 1166.4 L265.1 1166.4 Z" fill="#2c6fe0"/>
<path d="M266.9 1174.3 L293.9 1174.3 L293.9 1182.6 L266.9 1182.6 Z" fill="#2c6fe0"/>
<path d="M267.8 1185.1 L293.9 1185.1 L293.9 1205.1 L267.8 1205.1 Z" fill="#2c6fe0"/>
<path d="M266.0 1207.6 L293.0 1207.6 L293.0 1226.7 L266.0 1226.7 Z" fill="#2c6fe0"/>
<path d="M268.7 1229.2 L292.1 1229.2 L292.1 1246.5 L268.7 1246.5 Z" fill="#2c6fe0"/>
<path d="M268.7 1249.0 L292.1 1249.0 L292.1 1267.2 L268.7 1267.2 Z" fill="#2c6fe0"/>
<path d="M267.8 1269.7 L292.1 1269.7 L292.1 1290.6 L267.8 1290.6 Z" fill="#2c6fe0"/>
<path d="M266.9 1293.1 L291.2 1293.1 L291.2 1311.3 L266.9 1311.3 Z" fill="#2c6fe0"/>
<path d="M347.0 1148.6 L371.8 1148.6 L374.0 1309.7 L350.2 1309.7 Z" fill="#c5560d"/>
<path d="M346.1 1149.9 L372.2 1149.9 L372.2 1168.4 L346.1 1168.4 Z" fill="#f57c1f"/>
<path d="M348.8 1170.6 L374.0 1170.6 L374.0 1187.3 L348.8 1187.3 Z" fill="#f57c1f"/>
<path d="M349.7 1189.5 L374.0 1189.5 L374.0 1212.5 L349.7 1212.5 Z" fill="#f57c1f"/>
<path d="M348.8 1214.7 L374.0 1214.7 L374.0 1229.6 L348.8 1229.6 Z" fill="#f57c1f"/>
<path d="M349.7 1231.7 L373.1 1231.7 L373.1 1246.7 L349.7 1246.7 Z" fill="#f57c1f"/>
<path d="M347.9 1248.8 L374.0 1248.8 L374.0 1267.4 L347.9 1267.4 Z" fill="#f57c1f"/>
<path d="M349.7 1269.5 L374.0 1269.5 L374.0 1288.1 L349.7 1288.1 Z" fill="#f57c1f"/>
<path d="M349.7 1290.2 L374.0 1290.2 L374.0 1308.8 L349.7 1308.8 Z" fill="#f57c1f"/>
<defs><linearGradient id="foam" x1="0" x2="1" y1="0" y2="0"><stop offset="0" stop-color="#3f70cc"/><stop offset="0.3" stop-color="#4c7dd6"/><stop offset="0.45" stop-color="#3b6cc9"/><stop offset="0.8" stop-color="#3564c2"/><stop offset="1" stop-color="#2b57b2"/></linearGradient><filter id="grain" x="0" y="0" width="1" height="1"><feTurbulence type="fractalNoise" baseFrequency="0.85" numOctaves="2" seed="3" result="n"/><feColorMatrix in="n" type="matrix" values="0 0 0 0 0.62  0 0 0 0 0.76  0 0 0 0 0.96  1.1 0 0 0 -0.45" result="a"/><feComposite in="a" in2="SourceGraphic" operator="in" result="g"/><feMerge><feMergeNode in="SourceGraphic"/><feMergeNode in="g"/></feMerge></filter></defs>
<path d="M618.8 1104.4 Q637.7 1107.1 656.6 1106.6 Q649.4 1113.4 644.9 1117.4 L644.9 1122.4 L631.4 1122.4 L631.4 1117.4 Q625.1 1113.4 618.8 1104.4 Z" fill="#f7713a"/>
<path d="M616.6 1122.4 Q637.7 1120.2 658.0 1122.8 L658.4 1127.8 L616.6 1127.4 Z" fill="#f3602d"/>
<path d="M616.6 1126.5 L659.3 1126.5 L659.3 1342.0 L618.4 1340.6 Z" fill="url(#foam)" filter="url(#grain)"/>
<defs><linearGradient id="cg891" x1="0" x2="1" y1="0" y2="0"><stop offset="0" stop-color="#1c366f"/><stop offset="0.1" stop-color="#26468a"/><stop offset="0.3" stop-color="#284a90"/><stop offset="0.6" stop-color="#234183"/><stop offset="0.9" stop-color="#1f3a76"/><stop offset="1" stop-color="#162b5c"/></linearGradient></defs>
<path d="M891.2 1165.3 C891.2 1149.3 896.2 1139.3 904.2 1130.3 L907.2 1126.3 Q947.7 1122.8 989.2 1126.3 L992.2 1130.3 C999.2 1139.3 1004.2 1149.3 1004.2 1165.3 L1004.2 1313.0 C1004.2 1324.0 1001.2 1330.0 997.2 1333.0 L901.7 1333.0 C897.7 1330.0 891.2 1324.0 891.2 1313.0 Z" fill="url(#cg891)"/>
<ellipse cx="948.2" cy="1129.8" rx="43.0" ry="5" fill="#2b4b90"/>
<ellipse cx="948.2" cy="1129.5" rx="31.0" ry="2.8" fill="#24427f"/>
<path d="M903.2 1133.3 Q947.7 1140.3 993.2 1133.3 L996.2 1137.3 Q947.7 1145.3 900.2 1137.3 Z" fill="#1d3872" opacity="0.55"/>
<path d="M892.2 1317.0 Q947.7 1325.0 1003.2 1317.0 L997.2 1333.0 Q947.7 1335.0 901.7 1333.0 Z" fill="#1a3268" opacity="0.6"/>
<g transform="translate(949.3 1242.2)">
<ellipse rx="48.6" ry="59.2" fill="#fbfbfd"/>
<ellipse rx="44.6" ry="54.5" fill="#c0cad4" stroke="#2a2140" stroke-width="1.6"/>
<ellipse rx="37.5" ry="42.5" fill="#e9ebf1"/>
<ellipse rx="34" ry="38.5" fill="#eceef4" stroke="#5a40a8" stroke-width="4.4"/>
<text x="-28.0" y="17.5" font-size="50" font-weight="bold" fill="#4b379c" stroke="#2b1f5c" stroke-width="1.4" stroke-linejoin="round" textLength="56.0" lengthAdjust="spacingAndGlyphs">25</text>
<text font-size="5.4" font-weight="bold" fill="#f4f6f8" text-anchor="middle" x="0" y="-44.5" letter-spacing="0.6">BASEBALL SET</text>
<text font-size="5.4" font-weight="bold" fill="#f4f6f8" text-anchor="middle" x="0" y="-44.5" letter-spacing="0.6" transform="rotate(180)">BASEBALL SET</text>
</g>
<defs><linearGradient id="cg1020" x1="0" x2="1" y1="0" y2="0"><stop offset="0" stop-color="#1c366f"/><stop offset="0.1" stop-color="#26468a"/><stop offset="0.3" stop-color="#284a90"/><stop offset="0.6" stop-color="#234183"/><stop offset="0.9" stop-color="#1f3a76"/><stop offset="1" stop-color="#162b5c"/></linearGradient></defs>
<path d="M1020.3 1166.6 C1020.3 1150.6 1025.3 1140.6 1033.3 1131.6 L1036.3 1127.6 Q1075.8 1124.1 1116.2 1127.6 L1119.2 1131.6 C1126.2 1140.6 1131.2 1150.6 1131.2 1166.6 L1131.2 1316.0 C1131.2 1327.0 1128.2 1333.0 1124.2 1336.0 L1030.8 1336.0 C1026.8 1333.0 1020.3 1327.0 1020.3 1316.0 Z" fill="url(#cg1020)"/>
<ellipse cx="1076.2" cy="1131.1" rx="42.0" ry="5" fill="#2b4b90"/>
<ellipse cx="1076.2" cy="1130.8" rx="30.0" ry="2.8" fill="#24427f"/>
<path d="M1032.3 1134.6 Q1075.8 1141.6 1120.2 1134.6 L1123.2 1138.6 Q1075.8 1146.6 1029.3 1138.6 Z" fill="#1d3872" opacity="0.55"/>
<path d="M1021.3 1320.0 Q1075.8 1328.0 1130.2 1320.0 L1124.2 1336.0 Q1075.8 1338.0 1030.8 1336.0 Z" fill="#1a3268" opacity="0.6"/>
<g transform="translate(1075.2 1245.8)">
<ellipse rx="48.6" ry="59.2" fill="#fbfbfd"/>
<ellipse rx="44.6" ry="54.5" fill="#c0cad4" stroke="#2a2140" stroke-width="1.6"/>
<ellipse rx="37.5" ry="42.5" fill="#e9ebf1"/>
<ellipse rx="34" ry="38.5" fill="#eceef4" stroke="#5a40a8" stroke-width="4.4"/>
<text x="-28.5" y="17.5" font-size="50" font-weight="bold" fill="#4b379c" stroke="#2b1f5c" stroke-width="1.4" stroke-linejoin="round" textLength="57.0" lengthAdjust="spacingAndGlyphs">50</text>
<text font-size="5.4" font-weight="bold" fill="#f4f6f8" text-anchor="middle" x="0" y="-44.5" letter-spacing="0.6">BASEBALL SET</text>
<text font-size="5.4" font-weight="bold" fill="#f4f6f8" text-anchor="middle" x="0" y="-44.5" letter-spacing="0.6" transform="rotate(180)">BASEBALL SET</text>
</g>
<defs><linearGradient id="cg1144" x1="0" x2="1" y1="0" y2="0"><stop offset="0" stop-color="#1c366f"/><stop offset="0.1" stop-color="#26468a"/><stop offset="0.3" stop-color="#284a90"/><stop offset="0.6" stop-color="#234183"/><stop offset="0.9" stop-color="#1f3a76"/><stop offset="1" stop-color="#162b5c"/></linearGradient></defs>
<path d="M1144.6 1166.6 C1144.6 1150.6 1149.6 1140.6 1157.6 1131.6 L1160.6 1127.6 Q1201.7 1124.1 1243.8 1127.6 L1246.8 1131.6 C1253.8 1140.6 1258.8 1150.6 1258.8 1166.6 L1258.8 1316.0 C1258.8 1327.0 1255.8 1333.0 1251.8 1336.0 L1155.1 1336.0 C1151.1 1333.0 1144.6 1327.0 1144.6 1316.0 Z" fill="url(#cg1144)"/>
<ellipse cx="1202.2" cy="1131.1" rx="43.6" ry="5" fill="#2b4b90"/>
<ellipse cx="1202.2" cy="1130.8" rx="31.6" ry="2.8" fill="#24427f"/>
<path d="M1156.6 1134.6 Q1201.7 1141.6 1247.8 1134.6 L1250.8 1138.6 Q1201.7 1146.6 1153.6 1138.6 Z" fill="#1d3872" opacity="0.55"/>
<path d="M1145.6 1320.0 Q1201.7 1328.0 1257.8 1320.0 L1251.8 1336.0 Q1201.7 1338.0 1155.1 1336.0 Z" fill="#1a3268" opacity="0.6"/>
<g transform="translate(1203.3 1243.5)">
<ellipse rx="48.6" ry="59.2" fill="#fbfbfd"/>
<ellipse rx="44.6" ry="54.5" fill="#c0cad4" stroke="#2a2140" stroke-width="1.6"/>
<ellipse rx="37.5" ry="42.5" fill="#e9ebf1"/>
<ellipse rx="34" ry="38.5" fill="#eceef4" stroke="#5a40a8" stroke-width="4.4"/>
<text x="-30.5" y="17.5" font-size="50" font-weight="bold" fill="#4b379c" stroke="#2b1f5c" stroke-width="1.4" stroke-linejoin="round" textLength="61.0" lengthAdjust="spacingAndGlyphs">100</text>
<text font-size="5.4" font-weight="bold" fill="#f4f6f8" text-anchor="middle" x="0" y="-44.5" letter-spacing="0.6">BASEBALL SET</text>
<text font-size="5.4" font-weight="bold" fill="#f4f6f8" text-anchor="middle" x="0" y="-44.5" letter-spacing="0.6" transform="rotate(180)">BASEBALL SET</text>
</g>
<rect x="224.6" y="1045.0" width="205.2" height="48.5" rx="8.5" fill="#3285d6"/>
<text class="bi" x="255.0" y="1080.3" font-size="36" textLength="148.0" lengthAdjust="spacingAndGlyphs" >Blue bow</text>
<rect x="709.4" y="1016.0" width="208.6" height="48.7" rx="8.5" fill="#fd9339"/>
<text class="bi" x="727.0" y="1050.8" font-size="35" textLength="163.0" lengthAdjust="spacingAndGlyphs" >Write bow</text>
<defs><clipPath id="hclip"><rect x="1110.0" y="1015.0" width="289.0" height="44.0" rx="8.5"/></clipPath></defs>
<g clip-path="url(#hclip)">
<rect x="1109.0" y="1014.0" width="291.0" height="46.0" fill="#3285d6"/>
<polygon points="1273.5,1014.0 1400.0,1014.0 1400.0,1060.0 1264.5,1060.0" fill="#fd9339"/>
</g>
<text class="bi" x="1134.0" y="1045.2" font-size="33" textLength="128.0" lengthAdjust="spacingAndGlyphs" >Hanging</text>
<text class="bi" x="1274.5" y="1045.2" font-size="33" textLength="103.0" lengthAdjust="spacingAndGlyphs" >Target</text>
<rect x="259.0" y="1371.0" width="113.7" height="65.0" rx="8.5" fill="#3285d6"/>
<text class="bi" x="274.0" y="1398.7" font-size="24.5" textLength="83.5" lengthAdjust="spacingAndGlyphs" >2xWrist</text>
<text class="bi" x="283.4" y="1429.0" font-size="24.5" textLength="56.4" lengthAdjust="spacingAndGlyphs" >Band</text>
<rect x="563.0" y="1364.3" width="152.5" height="66.7" rx="8.5" fill="#fd9339"/>
<text class="bi" x="574.8" y="1391.0" font-size="24.5" textLength="39.0" lengthAdjust="spacingAndGlyphs" >40x</text>
<text class="bi" x="627.0" y="1391.0" font-size="24.5" textLength="85.0" lengthAdjust="spacingAndGlyphs" >Suction</text>
<text class="bi" x="574.0" y="1421.2" font-size="24.5" textLength="128.0" lengthAdjust="spacingAndGlyphs" >Cup Arrows</text>
<defs><clipPath id="sclip"><rect x="926.8" y="1383.6" width="289.5" height="44.4" rx="8.5"/></clipPath></defs>
<g clip-path="url(#sclip)">
<rect x="925.8" y="1382.6" width="291.5" height="46.4" fill="#3285d6"/>
<polygon points="1085.0,1382.6 1217.3,1382.6 1217.3,1429.0 1080.0,1429.0" fill="#fd9339"/>
</g>
<text class="bi" x="952.0" y="1415.2" font-size="31" textLength="130.0" lengthAdjust="spacingAndGlyphs" >6x Score</text>
<text class="bi" x="1094.0" y="1415.2" font-size="31" textLength="102.0" lengthAdjust="spacingAndGlyphs" >Target</text>
</svg>
</body></html>
